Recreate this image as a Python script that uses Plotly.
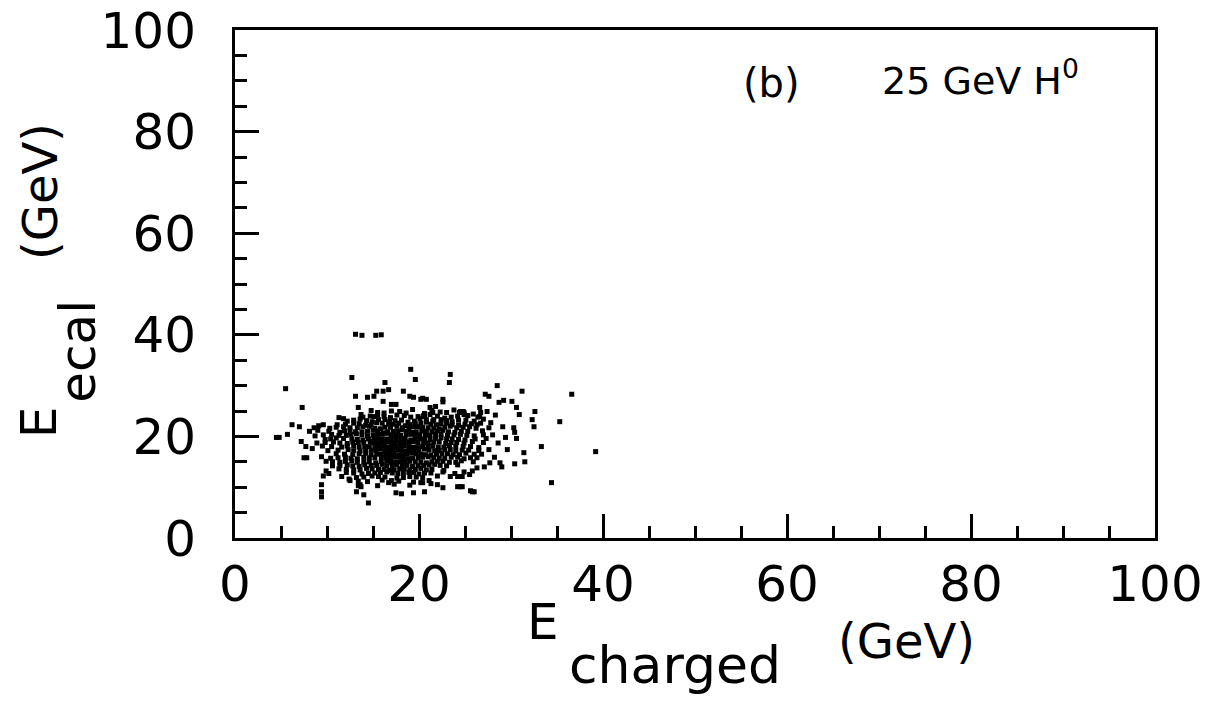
import plotly.graph_objects as go

# ---- data ----
x_ticks = [0, 20, 40, 60, 80, 100]
y_ticks = [0, 20, 40, 60, 80, 100]

# sparse / outlying events
out_charged = [13.1, 13.8, 15.3, 15.9, 19.1, 19.6, 12.7, 5.5, 23.4, 23.3,
               28.5, 31.2, 36.6, 39.2, 34.4, 20.4, 22.6, 22.6, 27.6, 28.7,
               29.2, 30.1, 21.8, 24.5, 24.9, 26.6, 26.6, 26.3, 30.6, 30.9,
               32.6, 32.3, 32.5, 35.3, 20.6, 21.6, 30.3, 30.4, 29.4, 30.6,
               33.3, 29.6, 31.4, 31.5, 30.4, 28.8, 29.0, 27.7, 27.1, 26.3,
               25.8, 24.9, 24.2, 24.7, 25.5, 23.4, 25.6, 26.0, 24.5, 20.4,
               21.3, 22.0, 22.6, 17.5, 18.1, 19.4, 20.2, 20.6, 24.2, 24.7,
               25.8, 16.7, 14.5, 13.2, 13.7, 14.0, 13.4, 9.4, 9.4, 9.4,
               7.5, 7.8, 4.5, 4.8, 5.7, 6.2, 7.0, 7.2, 7.3, 11.3,
               11.8, 13.4, 13.7, 13.1, 14.4, 15.1, 15.4, 16.1, 16.3, 16.7,
               18.3, 19.0, 19.4, 20.2, 20.8, 16.1, 17.0, 17.5, 21.2, 21.5,
               24.4, 24.9, 26.7, 27.2, 15.1, 8.1, 8.6, 9.1, 9.6, 7.7,
               8.4, 9.4, 12.4, 9.6, 9.9]
out_ecal = [40.1, 39.9, 39.9, 40.0, 33.2, 31.2, 31.6, 29.4, 32.2, 30.6,
            30.0, 28.9, 28.3, 17.0, 10.9, 27.5, 27.3, 26.8, 27.9, 26.7,
            27.1, 26.9, 25.9, 24.9, 24.3, 25.7, 23.9, 22.3, 25.7, 24.3,
            24.9, 23.3, 21.9, 22.9, 23.9, 23.3, 21.7, 20.8, 19.8, 19.6,
            18.0, 17.4, 16.8, 15.0, 14.6, 14.8, 14.0, 14.8, 14.0, 13.8,
            13.2, 13.0, 12.1, 12.1, 12.5, 12.1, 9.3, 9.1, 10.1, 10.9,
            10.7, 10.5, 9.9, 8.9, 8.7, 8.9, 10.9, 9.1, 10.1, 10.1,
            9.1, 10.9, 6.9, 9.1, 10.1, 8.5, 10.3, 10.5, 9.1, 8.1,
            15.8, 15.8, 19.8, 19.8, 20.4, 22.3, 21.9, 19.0, 25.7, 23.7,
            23.5, 25.7, 24.3, 27.9, 27.7, 27.9, 28.9, 28.9, 30.6, 29.2,
            28.9, 27.9, 27.7, 27.3, 27.3, 26.9, 26.3, 26.3, 25.7, 24.7,
            24.7, 24.7, 24.7, 28.3, 23.9, 21.0, 21.7, 22.1, 22.3, 18.0,
            17.6, 16.0, 11.6, 12.2, 13.2]

# dense core of the distribution (first set)
core_charged = [
    14.8, 16.2, 17.9, 19.3, 20.6, 22.3, 23.8, 25.9, 27.4,
    13.9, 15.5, 16.9, 18.4, 19.9, 21.2, 22.8, 24.2, 26.4, 28.3,
    12.2, 13.6, 14.9, 16.3, 17.4, 18.8, 20.1, 21.5, 22.4, 23.6, 25.1, 27.0,
    11.1, 12.9, 14.2, 15.4, 16.7, 17.8, 18.5, 19.6, 20.8, 21.9, 23.0, 24.3, 25.7, 27.8,
    10.3, 11.8, 13.3, 14.6, 15.8, 16.9, 17.6, 18.9, 19.9, 21.0, 22.2, 23.4, 24.8, 26.2, 29.1,
    9.0, 11.4, 12.5, 13.8, 15.0, 16.1, 17.2, 18.2, 19.2, 20.3, 21.4, 22.6, 23.9, 25.3, 26.9,
    8.7, 10.5, 12.1, 13.2, 14.4, 15.5, 16.5, 17.5, 18.6, 19.6, 20.7, 21.8, 23.1, 24.5, 26.0, 28.0,
    9.8, 11.0, 12.7, 13.9, 15.1, 16.0, 17.0, 18.0, 19.1, 20.1, 21.2, 22.4, 23.6, 25.0, 27.3,
    8.9, 10.7, 12.2, 13.4, 14.7, 15.6, 16.6, 17.4, 18.4, 19.4, 20.5, 21.6, 22.9, 24.1, 25.8, 28.6,
    9.5, 11.6, 12.9, 14.1, 15.2, 16.2, 17.1, 18.0, 18.9, 19.9, 21.0, 22.1, 23.3, 24.8, 26.5,
    10.1, 12.3, 13.6, 14.8, 15.8, 16.8, 17.7, 18.6, 19.5, 20.6, 21.7, 22.8, 24.0, 25.4, 27.6,
    11.0, 12.8, 14.2, 15.4, 16.4, 17.3, 18.3, 19.2, 20.2, 21.3, 22.5, 23.7, 25.1, 26.8,
    10.4, 12.0, 13.3, 14.6, 15.9, 16.9, 17.9, 18.8, 19.9, 21.0, 22.2, 23.5, 24.9, 26.3, 28.2,
    9.9, 11.4, 12.7, 14.0, 15.3, 16.5, 17.5, 18.5, 19.6, 20.8, 22.0, 23.3, 24.6, 25.9,
    10.6, 12.2, 13.5, 14.8, 16.0, 17.1, 18.2, 19.3, 20.5, 21.7, 23.0, 24.2,
    11.3, 12.9, 14.3, 15.6, 16.8, 17.9, 19.0, 20.2, 21.4, 22.7,
    10.2, 12.1, 13.8, 15.2, 16.5, 17.7, 18.9, 20.0, 21.3, 22.6, 23.9,
    11.6, 13.2, 14.9, 16.3, 17.6, 19.0, 20.4, 22.0,
    12.5, 14.4, 16.0, 17.8, 19.4, 21.1,
    13.6, 15.5, 17.3, 19.0,
]
core_ecal = [
    25.1, 24.6, 24.9, 25.3, 24.5, 24.8, 25.2, 24.4, 24.9,
    23.8, 24.2, 23.7, 24.1, 23.9, 24.3, 23.6, 24.0, 23.8, 24.2,
    23.0, 23.4, 22.9, 23.3, 23.1, 22.8, 23.5, 23.0, 23.3, 22.9, 23.2, 23.4,
    22.3, 22.6, 22.2, 22.7, 22.4, 22.6, 22.1, 22.5, 22.8, 22.3, 22.6, 22.2, 22.5, 22.7,
    21.6, 21.9, 21.7, 22.0, 21.5, 21.8, 22.0, 21.6, 21.9, 21.7, 21.5, 22.0, 21.8, 21.6, 21.9,
    21.2, 20.8, 21.1, 20.9, 21.2, 20.7, 21.0, 21.3, 20.8, 21.1, 20.9, 21.2, 20.8, 21.0, 21.1,
    20.1, 20.4, 20.2, 20.5, 20.1, 20.3, 20.6, 20.2, 20.4, 20.0, 20.3, 20.5, 20.2, 20.4, 20.1, 20.3,
    19.4, 19.7, 19.5, 19.3, 19.6, 19.4, 19.7, 19.5, 19.3, 19.6, 19.4, 19.7, 19.5, 19.3, 19.6,
    18.7, 18.9, 18.6, 18.8, 19.0, 18.7, 18.9, 18.6, 18.8, 19.0, 18.7, 18.9, 18.6, 18.8, 19.0, 18.7,
    18.1, 17.9, 18.2, 18.0, 17.8, 18.1, 17.9, 18.2, 18.0, 17.8, 18.1, 17.9, 18.2, 18.0, 17.8,
    17.2, 17.4, 17.1, 17.3, 17.5, 17.2, 17.4, 17.1, 17.3, 17.5, 17.2, 17.4, 17.1, 17.3, 17.4,
    16.6, 16.4, 16.7, 16.5, 16.3, 16.6, 16.4, 16.7, 16.5, 16.3, 16.6, 16.4, 16.7, 16.5,
    15.7, 15.9, 15.6, 15.8, 16.0, 15.7, 15.9, 15.6, 15.8, 16.0, 15.7, 15.9, 15.6, 15.8, 15.9,
    15.1, 14.9, 15.2, 15.0, 14.8, 15.1, 14.9, 15.2, 15.0, 14.8, 15.1, 14.9, 15.2, 15.0,
    14.2, 14.4, 14.1, 14.3, 14.5, 14.2, 14.4, 14.1, 14.3, 14.5, 14.2, 14.4,
    13.6, 13.4, 13.7, 13.5, 13.3, 13.6, 13.4, 13.7, 13.5, 13.3,
    12.7, 12.9, 12.6, 12.8, 13.0, 12.7, 12.9, 12.6, 12.8, 13.0, 12.7,
    12.1, 11.9, 12.2, 12.0, 11.8, 12.1, 11.9, 12.2,
    11.3, 11.1, 11.4, 11.2, 11.0, 11.3,
    10.5, 10.3, 10.6, 10.4,
]

# dense core (second set, filling between the first)
core2_charged = [
    15.5, 17.0, 18.6, 21.4, 23.0, 24.8,
    14.7, 16.2, 17.6, 19.1, 20.5, 22.0, 23.5, 25.3,
    12.9, 14.3, 15.6, 16.8, 18.1, 19.5, 20.8, 23.0, 24.3, 26.0,
    12.0, 13.5, 14.8, 16.0, 17.2, 19.0, 20.2, 21.3, 22.4, 23.6, 25.0, 26.7,
    11.0, 12.5, 13.9, 15.2, 16.3, 18.2, 19.4, 20.4, 21.6, 22.8, 24.1, 25.5, 27.6,
    10.2, 11.9, 13.1, 14.4, 15.5, 16.6, 17.7, 18.7, 19.7, 20.8, 22.0, 23.2, 24.6,
    9.6, 11.3, 12.6, 13.8, 15.0, 16.0, 17.0, 18.0, 19.1, 20.1, 21.2, 22.4, 23.8, 25.2, 27.0,
    10.4, 11.8, 13.3, 14.5, 15.5, 16.5, 17.5, 18.5, 19.6, 20.6, 21.8, 23.0, 24.3, 26.1,
    9.8, 11.4, 12.8, 14.0, 15.1, 16.1, 17.0, 17.9, 18.9, 19.9, 21.0, 22.2, 23.5, 24.9, 27.0,
    10.5, 12.2, 13.5, 14.6, 15.7, 16.6, 17.5, 18.4, 19.4, 20.4, 21.5, 22.7, 24.0, 25.6,
    11.2, 12.9, 14.2, 15.3, 16.3, 17.2, 18.1, 19.0, 20.0, 21.1, 22.2, 23.4, 24.7, 26.5,
    11.9, 13.5, 14.8, 15.9, 16.8, 17.8, 18.7, 19.7, 20.7, 21.9, 23.1, 24.4, 26.0,
    11.2, 12.6, 14.0, 15.2, 16.4, 17.4, 18.3, 19.3, 20.4, 21.6, 22.8, 24.2, 25.6,
    10.6, 12.0, 13.3, 14.6, 15.9, 17.0, 18.0, 19.0, 20.2, 21.4, 22.6, 24.0,
    11.4, 12.8, 14.1, 15.4, 16.5, 17.6, 18.7, 19.9, 21.1, 22.3,
    12.1, 13.6, 14.9, 16.2, 17.3, 18.4, 19.6, 20.8,
    12.9, 14.5, 15.8, 17.1, 18.3, 19.4, 20.6,
    14.0, 15.6, 18.3, 19.7,
    13.4, 17.0,
]
core2_ecal = [
    24.7, 25.0, 24.6, 25.1, 24.7, 24.9,
    24.0, 23.9, 24.2, 23.8, 24.1, 24.0, 23.8, 24.1,
    23.2, 23.1, 23.3, 22.9, 23.2, 23.0, 23.3, 23.1, 23.2, 23.0,
    22.4, 22.5, 22.3, 22.6, 22.4, 22.3, 22.6, 22.4, 22.5, 22.3, 22.4, 22.6,
    21.8, 21.7, 21.9, 21.6, 21.8, 21.7, 21.9, 21.8, 21.6, 21.8, 21.7, 21.9, 21.7,
    21.0, 21.1, 20.9, 21.0, 21.1, 20.9, 21.1, 21.0, 20.9, 21.0, 21.1, 20.9, 21.0,
    20.3, 20.2, 20.4, 20.3, 20.2, 20.4, 20.3, 20.2, 20.4, 20.3, 20.2, 20.4, 20.3, 20.2, 20.3,
    19.5, 19.6, 19.4, 19.5, 19.6, 19.5, 19.4, 19.6, 19.5, 19.4, 19.6, 19.5, 19.4, 19.5,
    18.8, 18.7, 18.9, 18.8, 18.7, 18.9, 18.8, 18.7, 18.9, 18.8, 18.7, 18.9, 18.8, 18.7, 18.8,
    18.0, 18.1, 17.9, 18.0, 18.1, 17.9, 18.0, 18.1, 17.9, 18.0, 18.1, 17.9, 18.0, 18.0,
    17.3, 17.2, 17.4, 17.3, 17.2, 17.4, 17.3, 17.2, 17.4, 17.3, 17.2, 17.4, 17.3, 17.2,
    16.5, 16.6, 16.4, 16.5, 16.6, 16.4, 16.5, 16.6, 16.4, 16.5, 16.6, 16.4, 16.5,
    15.8, 15.7, 15.9, 15.8, 15.7, 15.9, 15.8, 15.7, 15.9, 15.8, 15.7, 15.9, 15.8,
    15.0, 15.1, 14.9, 15.0, 15.1, 14.9, 15.0, 15.1, 14.9, 15.0, 15.1, 14.9,
    14.3, 14.2, 14.4, 14.3, 14.2, 14.4, 14.3, 14.2, 14.4, 14.3,
    13.5, 13.4, 13.6, 13.5, 13.4, 13.6, 13.5, 13.4,
    12.8, 12.7, 12.9, 12.8, 12.7, 12.9, 12.8,
    12.0, 12.1, 11.9, 12.0,
    11.2, 11.3,
]

e_charged = out_charged + core_charged + core2_charged
e_ecal = out_ecal + core_ecal + core2_ecal

FONT = "DejaVu Sans"

fig = go.Figure()
fig.add_trace(go.Scatter(
    x=e_charged, y=e_ecal, mode="markers",
    marker=dict(symbol="square", size=5, color="black", line=dict(width=0)),
    showlegend=False, hoverinfo="skip",
))

axis_common = dict(
    range=[0, 100], ticks="inside", ticklen=24, tickwidth=3, tickcolor="black",
    showline=True, linewidth=3, linecolor="black", mirror=True,
    showgrid=False, zeroline=False, automargin=False,
    tickfont=dict(family=FONT, size=50, color="black"),
    minor=dict(dtick=5, ticklen=12, tickwidth=3, ticks="inside",
               tickcolor="black", showgrid=False),
)

fig.update_xaxes(**axis_common, tickvals=x_ticks, ticktext=[str(v) for v in x_ticks])
fig.update_yaxes(**axis_common, tickvals=y_ticks, ticktext=[str(v) for v in y_ticks],
                 ticklabelstandoff=26)

ann = []
def add(text, x, y, size, xanchor="center", yanchor="middle", angle=0):
    ann.append(dict(text=text, x=x, y=y, xref="paper", yref="paper",
                    xanchor=xanchor, yanchor=yanchor, textangle=angle,
                    showarrow=False, font=dict(family=FONT, size=size, color="black")))

# panel labels
add("(b)", 0.583, 0.895, 40)
add("25 GeV H<sup>0</sup>", 0.701, 0.905, 38, xanchor="left")
# x-axis title
add("E", 0.354, -0.165, 50, xanchor="right")
add("charged", 0.361, -0.25, 52, xanchor="left")
add("(GeV)", 0.730, -0.203, 48)
# y-axis title
add("(GeV)", -0.212, 0.683, 48, angle=-90)
add("E", -0.213, 0.228, 50, angle=-90)
add("ecal", -0.171, 0.368, 50, angle=-90)

fig.update_layout(
    width=1220, height=703,
    margin=dict(l=235, r=65, t=30, b=165),
    paper_bgcolor="white", plot_bgcolor="white",
    annotations=ann,
)

fig.write_html("out.html")
